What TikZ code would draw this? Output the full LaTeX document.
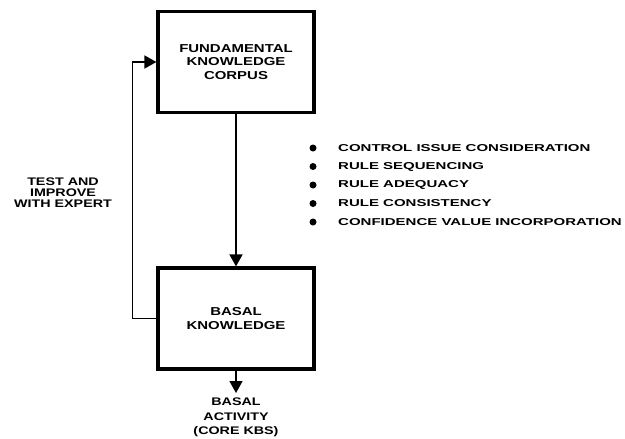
\documentclass[tikz,border=0pt]{standalone}
\usepackage{fontspec}
\setmainfont{Liberation Sans}
\newfontfamily\wide[FakeStretch=1.3]{Liberation Sans}
\newfontfamily\wider[FakeStretch=1.5]{Liberation Sans}
\usetikzlibrary{arrows.meta}
\begin{document}
\begin{tikzpicture}[x=1pt,y=-1pt,
  box/.style={draw,line width=3.2pt,minimum width=156pt,minimum height=101pt,inner sep=0pt,
    align=center,font=\wide\bfseries\fontsize{11.5}{13.5}\selectfont},
  lbl/.style={align=center,font=\wide\bfseries\fontsize{11}{11}\selectfont,inner sep=0pt},
  item/.style={anchor=west,font=\wider\bfseries\fontsize{10}{10}\selectfont,inner sep=0pt},
  conn/.style={line width=1.6pt,-{Triangle[width=13pt,length=12pt]}},
  dot/.style={circle,fill,minimum size=7pt,inner sep=0pt}]
\useasboundingbox (0,0) rectangle (625,439);
\node[box] (fkc) at (236,62) {FUNDAMENTAL\\KNOWLEDGE\\CORPUS};
\node[box] (bk) at (236,318.5) {BASAL\\KNOWLEDGE};
\coordinate (out) at (236,393);
\node[lbl,anchor=north,font=\wide\bfseries\fontsize{11}{14.5}\selectfont] (ba) at (236,398) {BASAL\\ACTIVITY\\(CORE KBS)};
\node[lbl] (test) at (63,193) {TEST AND\\IMPROVE\\WITH EXPERT};
\draw[conn] (fkc.south) -- (bk.north);
\draw[conn] (bk.south) -- (out);
\draw[conn] (bk.west) -- ++(-24,0) |- (fkc.west);
\foreach \i/\t in {0/CONTROL ISSUE CONSIDERATION,1/RULE SEQUENCING,2/RULE ADEQUACY,3/RULE CONSISTENCY,4/CONFIDENCE VALUE INCORPORATION}{
  \node[dot] (d\i) at (313,148+18.5*\i) {};
  \node[item] (t\i) at (338,148+18.5*\i) {\t};
}
\end{tikzpicture}
\end{document}
